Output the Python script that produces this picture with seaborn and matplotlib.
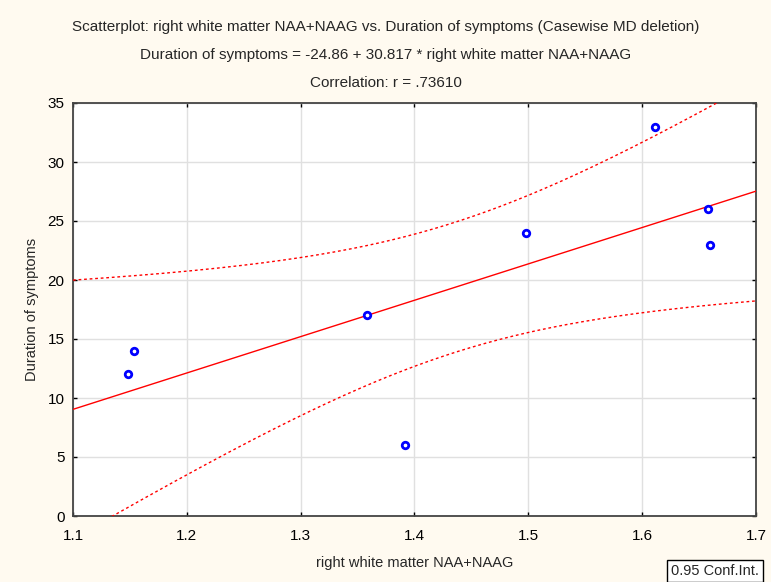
import numpy as np
import pandas as pd
import seaborn as sns
import matplotlib
matplotlib.use("Agg")
import matplotlib.pyplot as plt

# data
naa = [1.148, 1.154, 1.358, 1.392, 1.498, 1.611, 1.658, 1.660]
duration = [12, 14, 17, 6, 24, 33, 26, 23]
intercept = -24.86
slope = 30.817
t_crit = 2.4469  # t(0.975, df=6)
x_ticks = [1.1, 1.2, 1.3, 1.4, 1.5, 1.6, 1.7]
y_ticks = [0, 5, 10, 15, 20, 25, 30, 35]

sns.set_style("white")
plt.rcParams['font.family'] = ['Liberation Sans', 'DejaVu Sans']

bg = '#FFFAF0'
fig = plt.figure(figsize=(7.71, 5.82), dpi=100, facecolor=bg)
ax = fig.add_axes([73/771, 1-516/582, (756-73)/771, (516-103)/582])
ax.set_facecolor('white')

df = pd.DataFrame({'x': naa, 'y': duration})

# regression line and confidence band
xs = np.linspace(1.1, 1.7, 200)
xa = np.array(naa); ya = np.array(duration)
n = len(xa)
yhat = intercept + slope * xa
s = np.sqrt(np.sum((ya - yhat) ** 2) / (n - 2))
sxx = np.sum((xa - xa.mean()) ** 2)
fit = intercept + slope * xs
se = s * np.sqrt(1 / n + (xs - xa.mean()) ** 2 / sxx)
ax.plot(xs, fit, color='red', lw=1.0, zorder=3)
ax.plot(xs, fit + t_crit * se, color='red', lw=1.0, ls=(0, (2, 2)), zorder=3)
ax.plot(xs, fit - t_crit * se, color='red', lw=1.0, ls=(0, (2, 2)), zorder=3)

sns.scatterplot(data=df, x='x', y='y', ax=ax, marker='o', s=22,
                facecolor='white', edgecolor='#0000FF', linewidth=2.0, zorder=4)

ax.set_xlim(1.1, 1.7)
ax.set_ylim(0, 35)
ax.set_xticks(x_ticks)
ax.set_yticks(y_ticks)
ax.set_xticklabels([f"{v:g}" for v in x_ticks])
ax.set_yticklabels([f"{v:g}" for v in y_ticks])
ax.grid(True, color='#E0E0E0', lw=1.0)
ax.set_axisbelow(True)
for sp in ax.spines.values():
    sp.set_visible(True)
    sp.set_color('#444444')
    sp.set_linewidth(1.3)
ax.tick_params(axis='both', which='both', labelsize=11, colors='#000000',
               direction='in', length=3, width=1.0,
               left=True, right=True, top=True, bottom=True)
ax.tick_params(axis='y', pad=6)
ax.tick_params(axis='x', pad=9)
ax.set_xlabel('right white matter NAA+NAAG', fontsize=10.5, labelpad=10)
ax.set_ylabel('Duration of symptoms', fontsize=10.5, labelpad=6)

fig.text(0.5, 1-27/582, 'Scatterplot: right white matter NAA+NAAG vs. Duration of symptoms (Casewise MD deletion)',
         ha='center', va='center', fontsize=11)
fig.text(0.5, 1-55/582, 'Duration of symptoms = -24.86 + 30.817 * right white matter NAA+NAAG',
         ha='center', va='center', fontsize=11)
fig.text(0.5, 1-83/582, 'Correlation: r = .73610', ha='center', va='center', fontsize=11)
fig.text(715/771, 1-571/582, '0.95 Conf.Int.', ha='center', va='center', fontsize=10.5,
         bbox=dict(boxstyle='square,pad=0.25', facecolor='white', edgecolor='black', lw=1.0))

fig.savefig('out.png', dpi=100, facecolor=bg)
